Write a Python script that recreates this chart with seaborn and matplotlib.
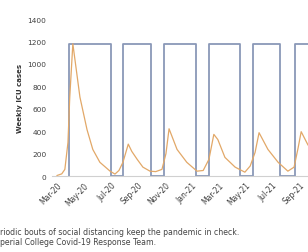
import pandas as pd
import matplotlib
matplotlib.use("Agg")
import matplotlib.pyplot as plt
import matplotlib.dates as mdates
import seaborn as sns

# weekly ICU cases
icu_dates = ["2020-03-01", "2020-03-12", "2020-03-19", "2020-03-26", "2020-03-30",
             "2020-04-06", "2020-04-14", "2020-04-22", "2020-05-08", "2020-05-21",
             "2020-06-06", "2020-06-29", "2020-07-10", "2020-07-19", "2020-07-28",
             "2020-08-09", "2020-08-17", "2020-08-29", "2020-09-11", "2020-09-27",
             "2020-10-10", "2020-10-24", "2020-11-02", "2020-11-09", "2020-11-27",
             "2020-12-19", "2021-01-11", "2021-01-25", "2021-02-07", "2021-02-18",
             "2021-02-27", "2021-03-15", "2021-04-07", "2021-04-29", "2021-05-11",
             "2021-05-22", "2021-05-31", "2021-06-20", "2021-07-13", "2021-08-04",
             "2021-08-18", "2021-08-27", "2021-09-03", "2021-09-18", "2021-10-03"]
icu_cases = [5, 20, 60, 300, 700,
             1180, 942, 704, 414, 238,
             123, 44, 18, 50, 123,
             285, 220, 150, 80, 44,
             40, 60, 200, 422, 238,
             123, 44, 50, 150, 372,
             326, 167, 80, 35, 90,
             211, 387, 238, 123, 44,
             80, 250, 396, 280, 200]

# social distancing "on" periods
on_start = ["2020-03-28", "2020-07-28", "2020-10-28", "2021-02-07", "2021-05-17", "2021-08-20"]
on_end = ["2020-07-01", "2020-09-29", "2021-01-09", "2021-04-19", "2021-07-18", "2021-10-25"]
on_level = 1180

icu = pd.DataFrame({"date": pd.to_datetime(icu_dates), "cases": icu_cases})

step_x, step_y = [], []
for s, e in zip(on_start, on_end):
    step_x += [s, s, e, e]
    step_y += [0, on_level, on_level, 0]
steps = pd.DataFrame({"date": pd.to_datetime(step_x), "level": step_y})

sns.set_style("white")
plt.rcParams['font.family'] = ['DejaVu Sans']

fig = plt.figure(figsize=(3.08, 2.53), dpi=100)
ax = fig.add_axes([52 / 308, 0.300, 278 / 308, 0.6206])

sns.lineplot(data=steps, x="date", y="level", ax=ax, color="#8a98b8",
             lw=1.3, estimator=None, sort=False)
sns.lineplot(data=icu, x="date", y="cases", ax=ax, color="#e2a868",
             lw=0.9, estimator=None, sort=False)

ax.set_xlim(pd.Timestamp("2020-02-19"), pd.Timestamp("2021-11-07"))
ax.set_ylim(0, 1400)
ax.set_yticks(range(0, 1401, 200))
ax.set_xticks(pd.date_range("2020-03-01", "2021-09-01", freq="2MS"))
ax.xaxis.set_major_formatter(mdates.DateFormatter("%b-%y"))
ax.tick_params(axis="y", labelsize=5.3, colors="#404040", length=0, pad=4)
ax.tick_params(axis="x", labelsize=5.5, colors="#404040", length=0, pad=3)
for lab in ax.get_xticklabels():
    lab.set_rotation(45)
    lab.set_ha("right")
    lab.set_rotation_mode("anchor")

ax.set_xlabel("")
ax.set_ylabel("Weekly ICU cases", fontsize=5, fontweight="bold", color="#333333", labelpad=3)

sns.despine(ax=ax, left=True, top=True, right=True)
ax.spines["bottom"].set_color("#d0d0d0")
ax.spines["bottom"].set_linewidth(0.8)

fig.text(0.0, 1 - 233 / 253, "riodic bouts of social distancing keep the pandemic in check.",
         fontsize=5.6, color="#444444", va="center", ha="left")
fig.text(0.0, 1 - 243 / 253, "perial College Covid-19 Response Team.",
         fontsize=5.6, color="#444444", va="center", ha="left")

fig.savefig("out.png", dpi=100)
